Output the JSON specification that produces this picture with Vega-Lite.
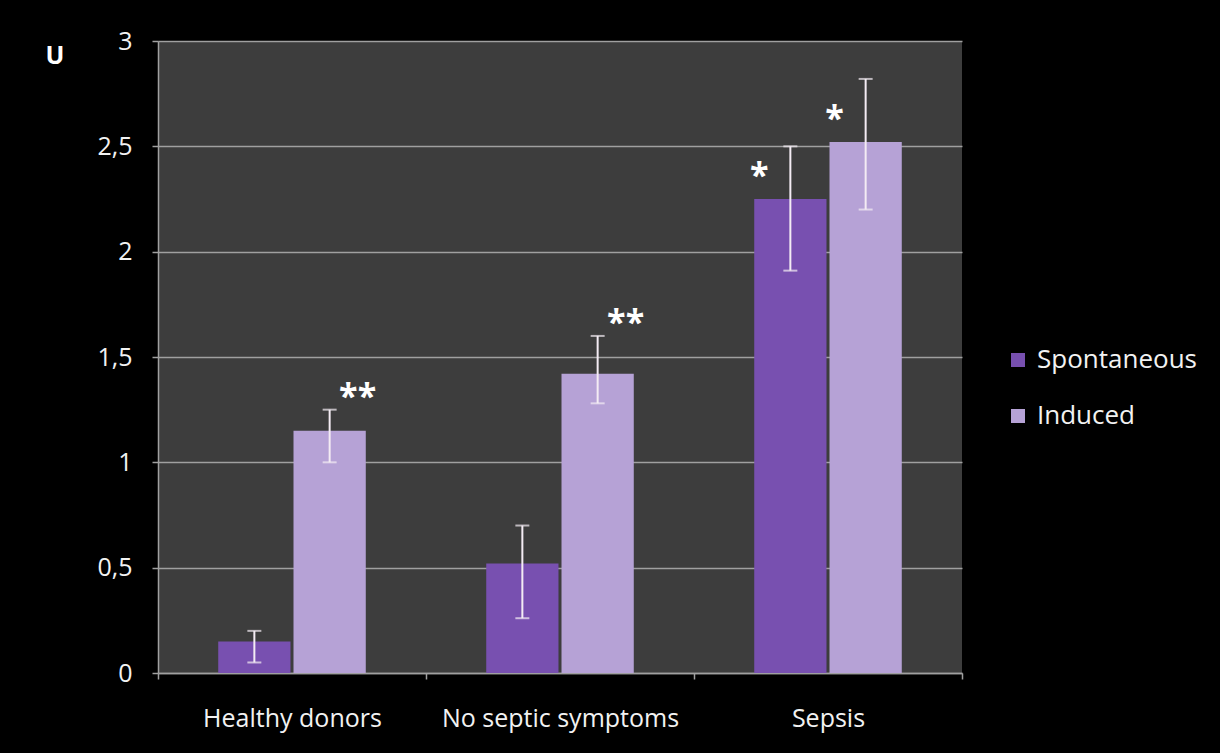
{
  "$schema": "https://vega.github.io/schema/vega-lite/v6.json",
  "width": 804,
  "height": 632,
  "autosize": {"type": "none"},
  "padding": {"left": 158, "top": 41, "right": 258, "bottom": 80},
  "background": "#000000",
  "view": {"fill": "#3d3d3d", "stroke": null},
  "config": {"font": "Open Sans"},
  "data": {
    "values": [
      {"group": "Healthy donors", "series": "Spontaneous", "value": 0.15, "lo": 0.05, "hi": 0.2, "sig": ""},
      {"group": "Healthy donors", "series": "Induced", "value": 1.15, "lo": 1.0, "hi": 1.25, "sig": "**"},
      {"group": "No septic symptoms", "series": "Spontaneous", "value": 0.52, "lo": 0.26, "hi": 0.7, "sig": ""},
      {"group": "No septic symptoms", "series": "Induced", "value": 1.42, "lo": 1.28, "hi": 1.6, "sig": "**"},
      {"group": "Sepsis", "series": "Spontaneous", "value": 2.25, "lo": 1.91, "hi": 2.5, "sig": "*"},
      {"group": "Sepsis", "series": "Induced", "value": 2.52, "lo": 2.2, "hi": 2.82, "sig": "*"}
    ]
  },
  "encoding": {
    "x": {
      "field": "group",
      "type": "nominal",
      "sort": ["Healthy donors", "No septic symptoms", "Sepsis"],
      "scale": {"paddingInner": 0, "paddingOuter": 0},
      "axis": {
        "title": null,
        "labelAngle": 0,
        "labelLimit": 0,
        "labelColor": "#f2f2f2",
        "labelFontSize": 25,
        "labelPadding": 27,
        "domainColor": "#a0a0a0",
        "domainWidth": 1.5,
        "tickColor": "#a0a0a0",
        "tickWidth": 1.5,
        "tickSize": 6,
        "tickBand": "extent",
        "grid": false
      }
    },
    "xOffset": {
      "field": "series",
      "type": "nominal",
      "sort": ["Spontaneous", "Induced"],
      "scale": {"paddingOuter": 0.8, "paddingInner": 0.04}
    }
  },
  "layer": [
    {
      "mark": {"type": "bar"},
      "encoding": {
        "y": {
          "field": "value",
          "type": "quantitative",
          "scale": {"domain": [0, 3], "nice": false},
          "axis": {
            "values": [0, 0.5, 1, 1.5, 2, 2.5, 3],
            "format": "~g",
            "labelExpr": "replace(datum.label, '.', ',')",
            "labelColor": "#f2f2f2",
            "labelFontSize": 25,
            "labelPadding": 20,
            "tickSize": 6,
            "tickColor": "#a0a0a0",
            "tickWidth": 1.5,
            "domainColor": "#a0a0a0",
            "domainWidth": 1.5,
            "grid": true,
            "gridColor": "#a0a0a0",
            "gridWidth": 1.5,
            "title": "U",
            "titleAngle": 0,
            "titleAlign": "left",
            "titleBaseline": "middle",
            "titleX": -113,
            "titleY": 14,
            "titleColor": "#ffffff",
            "titleFontSize": 25,
            "titleFontWeight": "bold"
          }
        },
        "color": {
          "field": "series",
          "type": "nominal",
          "sort": ["Spontaneous", "Induced"],
          "scale": {"domain": ["Spontaneous", "Induced"], "range": ["#7850b0", "#b6a2d6"]},
          "legend": {
            "orient": "none",
            "legendX": 847,
            "legendY": 306,
            "title": null,
            "symbolType": "square",
            "symbolSize": 196,
            "symbolStrokeWidth": 0,
            "labelColor": "#f2f2f2",
            "labelFontSize": 26,
            "labelOffset": 6,
            "rowPadding": 30
          }
        }
      }
    },
    {
      "mark": {"type": "rule", "color": "#f4ecf4", "strokeWidth": 2},
      "encoding": {
        "y": {"field": "lo", "type": "quantitative"},
        "y2": {"field": "hi"}
      }
    },
    {
      "mark": {"type": "tick", "color": "#f4ecf4", "thickness": 2, "size": 14},
      "encoding": {"y": {"field": "lo", "type": "quantitative"}}
    },
    {
      "mark": {"type": "tick", "color": "#f4ecf4", "thickness": 2, "size": 14},
      "encoding": {"y": {"field": "hi", "type": "quantitative"}}
    },
    {
      "transform": [{"filter": "datum.sig == '**'"}],
      "mark": {"type": "text", "color": "#ffffff", "fontSize": 34, "fontWeight": "bold", "baseline": "middle", "dx": 28, "dy": -12},
      "encoding": {
        "y": {"field": "hi", "type": "quantitative"},
        "text": {"field": "sig"}
      }
    },
    {
      "transform": [{"filter": "datum.sig == '*'"}],
      "mark": {"type": "text", "color": "#ffffff", "fontSize": 34, "fontWeight": "bold", "baseline": "middle", "dx": -31, "dy": -22},
      "encoding": {
        "y": {"field": "value", "type": "quantitative"},
        "text": {"field": "sig"}
      }
    }
  ]
}
